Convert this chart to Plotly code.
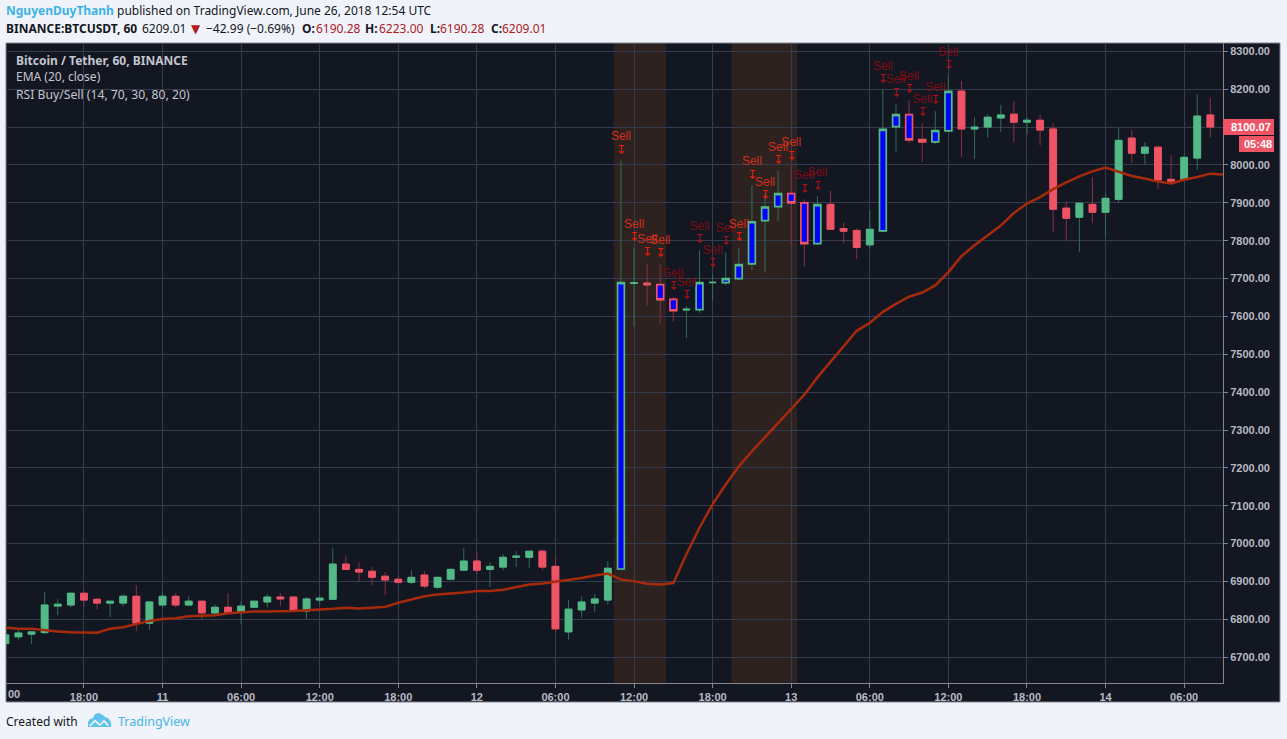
import pandas as pd
import plotly.graph_objects as go

W, H = 1287, 739
L, R, T, B = 6, 1223, 43, 683

opens = [6736,6754,6761,6765,6835,6838,6869,6853,6843,6843,6861,6790,6838,6861,6838,6848,6817,6832,6819,6832,6846,6859,6859,6822,6851,
         6853,6946,6932,6927,6914,6906,6898,6917,6885,6906,6930,6954,6932,6938,6964,6964,6980,6940,6767,6825,6843,6851,6933,7687,7688,
         7684,7645,7617,7618,7689,7689,7700,7739,7853,7890,7924,7900,7792,7896,7832,7827,7789,7826,8101,8133,8067,8061,8090,8195,8095,
         8100,8124,8134,8113,8118,8095,7886,7862,7896,7875,7909,8071,8031,8047,7962,7962,8018,8132]
highs = [6762,6772,6767,6872,6853,6871,6875,6856,6848,6867,6890,6846,6875,6869,6861,6848,6840,6869,6848,6848,6867,6869,6859,6859,6864,
         6990,6969,6951,6938,6925,6914,6930,6927,6911,6935,6988,6977,6951,6972,6980,6980,6985,6967,6851,6861,6867,6954,8011,7780,7739,
         7737,7652,7627,7775,7711,7769,7779,7946,7924,7985,7996,7908,7917,7932,7848,7834,7880,8198,8161,8171,8110,8142,8235,8222,8126,
         8134,8158,8169,8126,8132,8110,7904,7899,7968,7925,8097,8092,8060,8047,8026,8026,8187,8177]
lows = [6728,6746,6735,6761,6811,6832,6835,6827,6806,6835,6769,6772,6830,6832,6835,6801,6811,6817,6788,6832,6832,6835,6822,6801,6840,
        6851,6932,6901,6890,6864,6890,6893,6882,6880,6906,6930,6919,6885,6930,6938,6935,6930,6767,6746,6804,6819,6840,6933,7573,7628,
        7580,7586,7543,7610,7643,7682,7696,7722,7717,7851,7790,7732,7792,7830,7793,7751,7780,7823,8035,8058,8008,8055,8090,8021,8016,
        8072,8087,8060,8081,8052,7822,7801,7769,7846,7811,7901,8005,8002,7936,7951,7962,7986,8073]
closes = [6759,6764,6767,6838,6840,6869,6851,6843,6848,6861,6790,6846,6861,6838,6848,6817,6832,6817,6835,6848,6859,6854,6825,6854,6856,
          6946,6932,6925,6911,6904,6898,6911,6888,6911,6932,6954,6930,6940,6964,6967,6980,6938,6775,6827,6846,6854,6935,7689,7689,7683,
          7644,7615,7619,7689,7690,7700,7737,7850,7889,7924,7900,7792,7895,7830,7825,7782,7830,8094,8133,8066,8061,8091,8194,8095,8100,
          8126,8132,8113,8118,8092,7883,7859,7899,7875,7912,8065,8031,8047,7960,7957,8020,8129,8100.07]
ema = [6778,6775,6775,6771,6768,6766,6765,6765,6775,6779,6788,6796,6801,6803,6808,6809,6811,6816,6819,6821,6821,6821,6822,6824,6825,
       6828,6831,6829,6831,6833,6844,6853,6861,6866,6868,6871,6875,6875,6878,6884,6892,6895,6900,6904,6909,6916,6921,6905,6901,6894,
       6892,6896,6972,7042,7104,7156,7204,7244,7281,7318,7355,7393,7439,7481,7523,7562,7583,7612,7633,7652,7663,7682,7717,7759,7788,
       7814,7840,7873,7898,7915,7936,7954,7970,7983,7993,7982,7971,7964,7956,7951,7961,7968,7977,7975]
signal_bars = [47,50,51,53,55,56,57,58,59,60,61,62,67,68,69,70,71,72]
sell_bars = [47,48,49,50,51,52,53,54,55,56,57,58,59,60,61,62,67,68,69,70,71,72]
sell_levels = [8038,7807,7768,7765,7678,7654,7801,7739,7796,7807,7972,7917,8011,8022,7935,7943,8224,8188,8198,8137,8169,8261]
sell_strong = [47,48,49,50,56,57,58,59,60]
shaded_spans = [(47,50),(56,60)]
tick_bars = [6,12,18,24,30,36,42,48,54,60,66,72,78,84,90]
tick_labels = ["18:00","11","06:00","12:00","18:00","12","06:00","12:00","18:00","13","06:00","12:00","18:00","14","06:00"]
price_ticks = list(range(6700,8400,100))
time_axis = pd.date_range("2018-04-10 12:00", periods=94, freq="h")

GREEN, RED, BLUE = "#53b987", "#ef5366", "#0000ff"
GW, RW = "#2f6e58", "#8a2f45"
BG, GRID, AX, TXT = "#131722", "#363c4e", "#83868f", "#b7bac2"
PAGE = "#f0f3fa"
HEAD = "Noto Sans"

def px(x): return (x-L)/(R-L)
def py(y): return (B-y)/(B-T)

fig = go.Figure()

def idx(cond): return [i for i in range(len(opens)) if cond(i)]

for sel, col in ((idx(lambda i: closes[i] >= opens[i]), GW), (idx(lambda i: closes[i] < opens[i]), RW)):
    fig.add_trace(go.Candlestick(x=[time_axis[i] for i in sel], open=[opens[i] for i in sel], high=[highs[i] for i in sel],
                                 low=[lows[i] for i in sel], close=[closes[i] for i in sel],
                                 increasing=dict(line=dict(color=col, width=1), fillcolor=col),
                                 decreasing=dict(line=dict(color=col, width=1), fillcolor=col),
                                 hoverinfo="skip"))

def bodies(sel, edge, fill, lw=1):
    fig.add_trace(go.Candlestick(x=[time_axis[i] for i in sel], open=[opens[i] for i in sel],
                                 high=[max(opens[i],closes[i]) for i in sel], low=[min(opens[i],closes[i]) for i in sel],
                                 close=[closes[i] for i in sel],
                                 increasing=dict(line=dict(color=edge, width=lw), fillcolor=fill),
                                 decreasing=dict(line=dict(color=edge, width=lw), fillcolor=fill),
                                 hoverinfo="skip"))

bodies(idx(lambda i: closes[i] >= opens[i] and i not in signal_bars), GREEN, GREEN)
bodies(idx(lambda i: closes[i] < opens[i] and i not in signal_bars), RED, RED)
bodies(idx(lambda i: closes[i] >= opens[i] and i in signal_bars), GREEN, BLUE, 1.7)
bodies(idx(lambda i: closes[i] < opens[i] and i in signal_bars), RED, BLUE, 1.7)

fig.add_trace(go.Scatter(x=time_axis, y=ema, mode="lines", line=dict(color="#a82a0c", width=2.5), hoverinfo="skip"))

sx = [time_axis[i] for i in sell_bars]
fig.add_trace(go.Scatter(x=sx, y=sell_levels, mode="text", text=["↧"]*len(sx), textposition="middle center",
                         textfont=dict(family="DejaVu Sans", size=12, color=["#f01a0f" if b in sell_strong else "#b01018" for b in sell_bars]),
                         hoverinfo="skip"))
fig.add_trace(go.Scatter(x=sx, y=[v+35 for v in sell_levels], mode="text", text=["Sell"]*len(sx), textposition="middle center",
                         textfont=dict(family="Liberation Sans", size=12, color=["#d2301a" if b in sell_strong else "#7d0c12" for b in sell_bars]),
                         hoverinfo="skip"))

shapes = [dict(type="rect", xref="paper", yref="paper", x0=px(6), x1=px(1280), y0=py(702), y1=py(43),
               fillcolor=BG, line=dict(color=AX, width=1), layer="below")]
for a, b in shaded_spans:
    shapes.append(dict(type="rect", xref="x", yref="paper", x0=time_axis[a]-pd.Timedelta(minutes=33), x1=time_axis[b]+pd.Timedelta(minutes=27),
                       y0=0, y1=1, fillcolor="rgba(255,127,17,0.115)", line=dict(width=0), layer="below"))
for x0, x1, y0, y1 in ((1223,1274,119,135),(1239,1274,136,152)):
    shapes.append(dict(type="rect", xref="paper", yref="paper", x0=px(x0), x1=px(x1), y0=py(y1), y1=py(y0),
                       fillcolor=RED, line=dict(width=0), layer="above"))

def path(points):
    return "M " + " L ".join(f"{px(x):.5f},{py(y):.5f}" for x, y in points) + " Z"
cloud = [(88,727),(88,722),(90,719),(93,718),(95,714),(99,713),(103,715),(105,717),(108,718),(111,722),(111,727)]
zig = [(89,725.5),(95,719.5),(100,724),(104,719.5),(109,725),(107.5,726),(104,722),(100,726),(95,722),(90.5,726.5)]
shapes.append(dict(type="path", xref="paper", yref="paper", path=path(cloud), fillcolor="#5ec4ea", line=dict(width=0)))
shapes.append(dict(type="path", xref="paper", yref="paper", path=path(zig), fillcolor=PAGE, line=dict(width=0)))

anns = []
def note(x, y, text, size=12, color="#131722", family=HEAD):
    anns.append(dict(xref="paper", yref="paper", x=px(x), y=py(y), text=text, showarrow=False, xanchor="left", yanchor="middle",
                     borderpad=0, font=dict(family=family, size=size, color=color)))

DARKRED = "#b0191f"
note(5, 11, "<b><span style='color:#3bb3e4'>NguyenDuyThanh</span></b>")
note(116, 11, "published on TradingView.com, June 26, 2018 12:54 UTC")
note(5, 29, "<b>BINANCE:BTCUSDT, 60</b>")
note(141, 29, "6209.01")
note(190, 29, "▼", color=DARKRED, size=12, family="DejaVu Sans")
note(205, 29, "−42.99 (−0.69%)")
for x, t in ((301,"O:"),(364,"H:"),(429,"L:"),(490,"C:")):
    note(x, 29, f"<b>{t}</b>")
for x, t in ((315,"6190.28"),(378,"6223.00"),(439,"6190.28"),(501,"6209.01")):
    note(x, 29, t, color=DARKRED)
note(14.5, 60, "<b>Bitcoin / Tether, 60, BINANCE</b>", color="#c3c6ce")
note(14.5, 77, "EMA (20, close)", color="#c3c6ce")
note(14.5, 94, "RSI Buy/Sell (14, 70, 30, 80, 20)", size=12.2, color="#c3c6ce")
note(5, 721, "Created with")
note(117, 721, "TradingView", color="#45b4e6", size=12.5)
note(7, 694, "<b>00</b>", size=11, color=TXT, family="Liberation Sans")
note(1230, 127, "<b>8100.07</b>", size=11, color="#ffffff", family="Liberation Sans")
note(1243, 144, "<b>05:48</b>", size=11, color="#ffffff", family="Liberation Sans")

fig.update_layout(
    width=W, height=H, margin=dict(l=L, r=W-R, t=T, b=H-B, autoexpand=False),
    paper_bgcolor=PAGE, plot_bgcolor="rgba(0,0,0,0)", showlegend=False, hovermode=False, dragmode=False,
    boxgap=0.26, shapes=shapes, annotations=anns,
    xaxis=dict(type="date", range=["2018-04-10 12:03", "2018-04-14 08:58"], rangeslider=dict(visible=False),
               tickmode="array", tickvals=[time_axis[i] for i in tick_bars], ticktext=[f"<b>{t}</b>" for t in tick_labels],
               tickfont=dict(family="Liberation Sans", size=11, color=TXT), tickangle=0,
               showgrid=True, gridcolor=GRID, gridwidth=1, zeroline=False, showline=True, linecolor=AX, linewidth=1,
               ticks="outside", ticklen=4, tickcolor=AX),
    yaxis=dict(side="right", range=[6632, 8322], tickmode="array", tickvals=price_ticks, ticktext=[f"<b>{v:.2f}</b>" for v in price_ticks],
               tickfont=dict(family="Liberation Sans", size=11, color=TXT),
               showgrid=True, gridcolor=GRID, gridwidth=1, zeroline=False, showline=True, linecolor=AX, linewidth=1,
               ticks="outside", ticklen=4, tickcolor=AX),
)

fig.write_html("out.html", config=dict(displayModeBar=False, staticPlot=True),
               post_script="document.body.style.margin='0';document.body.style.overflow='hidden';document.body.style.background='%s';" % PAGE)
